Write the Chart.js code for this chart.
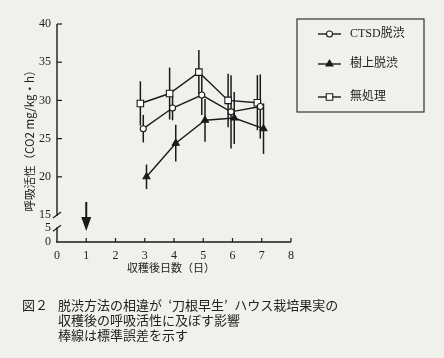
<!DOCTYPE html>
<html>
<head>
<meta charset="utf-8">
<script src="https://cdn.jsdelivr.net/npm/chart.js@4/dist/chart.umd.min.js"></script>
<style>
  html, body { margin: 0; padding: 0; background: #f0f0ec; }
  #wrap { position: relative; width: 444px; height: 358px; overflow: hidden; }
  canvas { position: absolute; left: 0; top: 0; }
  .cap { position: absolute; font-family: "Noto Sans CJK JP", sans-serif; font-size: 13px; line-height: 15px; color: #222; white-space: nowrap; }
</style>
</head>
<body>
<div id="wrap">
  <canvas id="c" width="444" height="358"></canvas>
  <div class="cap" style="left:22px; top:297px;">図２</div>
  <div class="cap" style="left:58px; top:297px;">脱渋方法の相違が&#8194;‘刀根早生’&#8194;ハウス栽培果実の<br>収穫後の呼吸活性に及ぼす影響<br>棒線は標準誤差を示す</div>
</div>
<script>
// ---- data ----
const days = [3, 4, 5, 6, 7];
const ctsdMean = [26.3, 29.0, 30.7, 28.5, 29.2];
const ctsdSE   = [1.8, 1.6, 2.6, 4.8, 4.2];
const treeMean = [20.0, 24.4, 27.4, 27.7, 26.3];
const treeSE   = [1.6, 2.4, 2.8, 3.4, 3.3];
const noneMean = [29.6, 30.9, 33.7, 30.0, 29.7];
const noneSE   = [2.9, 3.4, 2.9, 3.5, 3.6];
const seriesLabels = ['CTSD脱渋', '樹上脱渋', '無処理'];
const xTickValues = [0, 1, 2, 3, 4, 5, 6, 7, 8];
const yTickValues = [0, 5, 15, 20, 25, 30, 35, 40];
const xTitle = '収穫後日数（日）';
const yTitle = '呼吸活性（CO2 mg/kg・h）';
const arrowDay = 1;

// ---- broken-axis mapping (values < 15 are compressed below the break) ----
const BREAK_HI = 15, BREAK_LO = 5, AXIS_MIN = 11.47, LOW_FACTOR = 0.36;
function toAxis(v) { return v >= BREAK_HI ? v : AXIS_MIN + v * LOW_FACTOR; }

// small horizontal dodge so the three series do not overlap
const dodge = { ctsd: -0.05, tree: 0.06, none: -0.15 };

function pts(mean, off) { return days.map((d, i) => ({ x: d + off, y: toAxis(mean[i]) })); }

const INK = '#1a1a1a';
const SERIF = "'Liberation Serif', 'DejaVu Serif', 'Noto Sans CJK JP', serif";
const CJK = "'Noto Sans CJK JP', sans-serif";

const datasets = [
  { label: seriesLabels[0], data: pts(ctsdMean, dodge.ctsd), se: ctsdSE, mean: ctsdMean,
    pointStyle: 'circle', pointRadius: 3, pointBackgroundColor: '#ffffff' },
  { label: seriesLabels[1], data: pts(treeMean, dodge.tree), se: treeSE, mean: treeMean,
    pointStyle: 'triangle', pointRadius: 4, pointBackgroundColor: INK },
  { label: seriesLabels[2], data: pts(noneMean, dodge.none), se: noneSE, mean: noneMean,
    pointStyle: 'rect', pointRadius: 4.6, pointBackgroundColor: '#ffffff' }
].map(d => Object.assign({
  borderColor: INK, borderWidth: 1.4, pointBorderColor: INK, pointBorderWidth: 1.1,
  showLine: true, tension: 0, fill: false
}, d));

const drawPlugin = {
  id: 'drawPlugin',
  beforeDraw(chart) {
    const ctx = chart.ctx;
    ctx.save();
    ctx.fillStyle = '#f0f0ec';
    ctx.fillRect(0, 0, chart.width, chart.height);
    ctx.restore();
  },
  beforeDatasetsDraw(chart) {
    const ctx = chart.ctx, xs = chart.scales.x, ys = chart.scales.y;
    ctx.save();
    ctx.strokeStyle = INK; ctx.lineWidth = 1.5;
    chart.data.datasets.forEach(ds => {
      ds.data.forEach((p, i) => {
        const px = xs.getPixelForValue(p.x);
        const t = ys.getPixelForValue(toAxis(ds.mean[i] + ds.se[i]));
        const b = ys.getPixelForValue(toAxis(ds.mean[i] - ds.se[i]));
        ctx.beginPath(); ctx.moveTo(px, t); ctx.lineTo(px, b); ctx.stroke();
      });
    });
    ctx.restore();
  },
  afterDraw(chart) {
    const ctx = chart.ctx, xs = chart.scales.x, ys = chart.scales.y;
    const x0 = xs.getPixelForValue(0), x8 = xs.getPixelForValue(8);
    const yb = ys.getPixelForValue(toAxis(0));
    const yTop = ys.getPixelForValue(40);
    const y15 = ys.getPixelForValue(toAxis(BREAK_HI));
    const y5 = ys.getPixelForValue(toAxis(BREAK_LO));
    ctx.save();
    ctx.strokeStyle = INK; ctx.fillStyle = INK; ctx.lineWidth = 1.4;
    // x axis
    ctx.beginPath(); ctx.moveTo(x0 - 1, yb); ctx.lineTo(x8, yb); ctx.stroke();
    // y axis with break
    ctx.beginPath(); ctx.moveTo(x0, yTop); ctx.lineTo(x0, y15 + 1); ctx.stroke();
    ctx.beginPath(); ctx.moveTo(x0, y5 - 1); ctx.lineTo(x0, yb); ctx.stroke();
    ctx.lineWidth = 1.2;
    [y15, y5].forEach(yy => {
      ctx.beginPath(); ctx.moveTo(x0 - 4, yy + 3); ctx.lineTo(x0 + 4, yy - 3); ctx.stroke();
    });
    // y ticks (inward)
    yTickValues.filter(v => v > BREAK_HI).forEach(v => {
      const py = ys.getPixelForValue(toAxis(v));
      ctx.beginPath(); ctx.moveTo(x0, py); ctx.lineTo(x0 + 5, py); ctx.stroke();
    });
    // x ticks (inward)
    xTickValues.filter(v => v > 0).forEach(v => {
      const px = xs.getPixelForValue(v);
      ctx.beginPath(); ctx.moveTo(px, yb); ctx.lineTo(px, yb - 4); ctx.stroke();
    });
    // arrow at harvest day
    const ax = xs.getPixelForValue(arrowDay);
    const aTop = ys.getPixelForValue(16.7), aTip = ys.getPixelForValue(toAxis(4));
    ctx.lineWidth = 2;
    ctx.beginPath(); ctx.moveTo(ax, aTop); ctx.lineTo(ax, aTip - 10); ctx.stroke();
    ctx.beginPath(); ctx.moveTo(ax - 5, aTip - 14); ctx.lineTo(ax + 5, aTip - 14); ctx.lineTo(ax, aTip); ctx.closePath(); ctx.fill();

    // axis titles
    ctx.fillStyle = '#222';
    ctx.textAlign = 'center'; ctx.textBaseline = 'middle';
    ctx.font = "11px " + CJK;
    ctx.fillText(xTitle, 171, 268);
    ctx.save();
    ctx.translate(30, 138); ctx.rotate(-Math.PI / 2);
    ctx.font = "11.5px " + CJK;
    ctx.fillText(yTitle, 0, 0);
    ctx.restore();

    // legend
    ctx.strokeStyle = '#333'; ctx.lineWidth = 1.2;
    ctx.strokeRect(297, 19, 127, 93);
    const rows = [34, 64, 97];
    const lx = 329.5;
    chart.data.datasets.forEach((ds, i) => {
      const yy = rows[i];
      ctx.strokeStyle = INK; ctx.lineWidth = 1.4;
      ctx.beginPath(); ctx.moveTo(318, yy); ctx.lineTo(341, yy); ctx.stroke();
      ctx.fillStyle = ds.pointBackgroundColor; ctx.lineWidth = ds.pointBorderWidth;
      ctx.beginPath();
      if (ds.pointStyle === 'circle') { ctx.arc(lx, yy, ds.pointRadius, 0, Math.PI * 2); }
      else if (ds.pointStyle === 'rect') { const s = ds.pointRadius / Math.SQRT2; ctx.rect(lx - s, yy - s, 2 * s, 2 * s); }
      else { const r = ds.pointRadius; ctx.moveTo(lx, yy - r); ctx.lineTo(lx + r * 0.866, yy + r * 0.5); ctx.lineTo(lx - r * 0.866, yy + r * 0.5); ctx.closePath(); }
      ctx.fill(); ctx.stroke();
      ctx.fillStyle = '#222';
      ctx.font = "12px " + SERIF;
      ctx.textAlign = 'left'; ctx.textBaseline = 'middle';
      ctx.fillText(ds.label, 350, yy);
    });
    ctx.restore();
  }
};

new Chart(document.getElementById('c'), {
  type: 'line',
  data: { datasets },
  options: {
    responsive: false, animation: false,
    layout: { padding: { top: 24, left: 0, right: 153, bottom: 0 } },
    plugins: { legend: { display: false }, tooltip: { enabled: false } },
    scales: {
      x: {
        type: 'linear', min: 0, max: 8,
        grid: { display: false, drawTicks: false }, border: { display: false },
        afterBuildTicks: s => { s.ticks = xTickValues.map(v => ({ value: v })); },
        ticks: { padding: 7, color: '#222', font: { family: SERIF, size: 12 }, maxRotation: 0,
                 callback: (v) => String(v) },
        afterFit: s => { s.height = 116; }
      },
      y: {
        type: 'linear', min: AXIS_MIN, max: 40,
        grid: { display: false, drawTicks: false }, border: { display: false },
        afterBuildTicks: s => { s.ticks = yTickValues.map(v => ({ value: toAxis(v) })); },
        ticks: { padding: 6, color: '#222', font: { family: SERIF, size: 12 },
                 callback: (v, i) => String(yTickValues[i]) },
        afterFit: s => { s.width = 57; }
      }
    }
  },
  plugins: [drawPlugin]
});
</script>
</body>
</html>
